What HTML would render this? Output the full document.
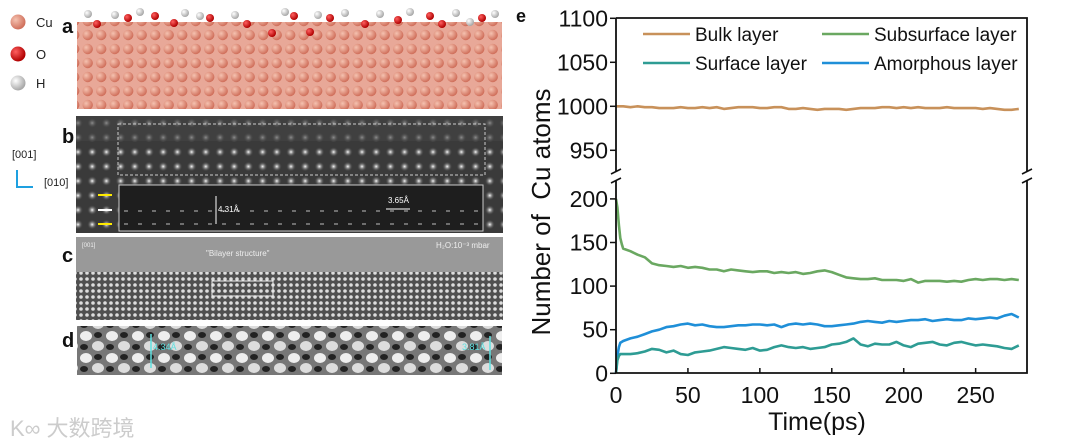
<!DOCTYPE html>
<html><head><meta charset="utf-8"><style>
html,body{margin:0;padding:0;background:#fff;}
body{width:1080px;height:446px;overflow:hidden;position:relative;font-family:"Liberation Sans",sans-serif;}
</style></head><body>
<svg width="1080" height="446" viewBox="0 0 1080 446" style="position:absolute;left:0;top:0">
<defs>
<radialGradient id="gcu" cx="35%" cy="35%" r="65%"><stop offset="0" stop-color="#f5c2b0"/><stop offset="1" stop-color="#d0705c"/></radialGradient>
<radialGradient id="go" cx="35%" cy="35%" r="65%"><stop offset="0" stop-color="#ff6060"/><stop offset="1" stop-color="#b00000"/></radialGradient>
<radialGradient id="gh" cx="35%" cy="35%" r="65%"><stop offset="0" stop-color="#ffffff"/><stop offset="1" stop-color="#a8a8a8"/></radialGradient>
<radialGradient id="gdot" cx="50%" cy="50%" r="50%"><stop offset="0" stop-color="#fff"/><stop offset="1" stop-color="#444" stop-opacity="0"/></radialGradient>
<pattern id="patA" width="13.5" height="14" patternUnits="userSpaceOnUse"><rect width="13.5" height="14" fill="#e8a898"/><circle cx="6.7" cy="7" r="5.2" fill="url(#gcu)"/></pattern>
<pattern id="patB" width="14.2" height="14.5" patternUnits="userSpaceOnUse"><rect width="14.2" height="14.5" fill="#3a3a3a"/><circle cx="7" cy="7" r="5" fill="url(#gdot)"/></pattern>
<pattern id="patC" width="6" height="6" patternUnits="userSpaceOnUse"><rect width="6" height="6" fill="#505050"/><circle cx="3" cy="3" r="1.8" fill="#ddd"/></pattern>
<pattern id="patD" width="26" height="22" patternUnits="userSpaceOnUse"><rect width="26" height="22" fill="#777"/><ellipse cx="8" cy="6" rx="6" ry="5" fill="#eee"/><ellipse cx="20" cy="16" rx="6" ry="5" fill="#ddd"/><ellipse cx="20" cy="5" rx="4" ry="3" fill="#222"/><ellipse cx="6" cy="17" rx="4" ry="3" fill="#222"/></pattern>
</defs>
<g font-size="13" fill="#222">
<circle cx="18" cy="22" r="7.5" fill="url(#gcu)"/><text x="36" y="27">Cu</text>
<circle cx="18" cy="54" r="7.5" fill="url(#go)"/><text x="36" y="59">O</text>
<circle cx="18" cy="83" r="7.5" fill="url(#gh)"/><text x="36" y="88">H</text>
</g>
<g font-weight="bold" font-size="20" fill="#111">
<text x="62" y="33">a</text><text x="62" y="143">b</text><text x="62" y="262">c</text><text x="62" y="347">d</text><text x="516" y="22" font-size="18">e</text>
</g>
<g>
<rect x="77" y="22" width="425" height="87" fill="url(#patA)"/>
<g fill="url(#go)"><circle cx="97" cy="24" r="4"/><circle cx="128" cy="18" r="4"/><circle cx="155" cy="16" r="4"/><circle cx="174" cy="23" r="4"/><circle cx="210" cy="18" r="4"/><circle cx="247" cy="24" r="4"/><circle cx="272" cy="33" r="4"/><circle cx="294" cy="16" r="4"/><circle cx="310" cy="32" r="4"/><circle cx="330" cy="18" r="4"/><circle cx="365" cy="24" r="4"/><circle cx="398" cy="20" r="4"/><circle cx="430" cy="16" r="4"/><circle cx="442" cy="24" r="4"/><circle cx="482" cy="18" r="4"/></g>
<g fill="url(#gh)"><circle cx="88" cy="14" r="4"/><circle cx="115" cy="15" r="4"/><circle cx="140" cy="12" r="4"/><circle cx="185" cy="13" r="4"/><circle cx="200" cy="16" r="4"/><circle cx="235" cy="15" r="4"/><circle cx="285" cy="12" r="4"/><circle cx="318" cy="15" r="4"/><circle cx="345" cy="13" r="4"/><circle cx="380" cy="14" r="4"/><circle cx="410" cy="12" r="4"/><circle cx="456" cy="13" r="4"/><circle cx="470" cy="22" r="4"/><circle cx="495" cy="14" r="4"/></g>
</g>
<g>
<rect x="76" y="116" width="427" height="117" fill="url(#patB)"/>
<rect x="76" y="116" width="427" height="25" fill="#444" opacity="0.6"/>
<rect x="118" y="124" width="367" height="51" fill="none" stroke="#ccc" stroke-dasharray="3,2"/>
<rect x="119" y="185" width="364" height="46" fill="#1e1e1e" stroke="#ccc"/>
<g fill="none" stroke="#888" stroke-width="1.5">
<line x1="124" y1="211" x2="478" y2="211" stroke-dasharray="4,10"/><line x1="124" y1="224" x2="478" y2="224" stroke-dasharray="4,10"/></g>
<g stroke="#ffeb00" stroke-width="2"><line x1="98" y1="195" x2="112" y2="195"/><line x1="98" y1="224" x2="112" y2="224"/></g>
<line x1="98" y1="210" x2="112" y2="210" stroke="#fff" stroke-width="2"/>
<line x1="216" y1="196" x2="216" y2="224" stroke="#fff"/><text x="218" y="212" font-size="8" fill="#fff">4.31Å</text>
<line x1="386" y1="209" x2="410" y2="209" stroke="#fff"/><text x="388" y="203" font-size="8" fill="#fff">3.65Å</text>
</g>
<g font-size="11" fill="#222">
<text x="12" y="158">[001]</text><text x="44" y="186">[010]</text>
<path d="M17 170 V187 H33" fill="none" stroke="#1ea0e0" stroke-width="2"/>
</g>
<g>
<rect x="76" y="237" width="427" height="83" fill="#999"/>
<rect x="76" y="272" width="427" height="48" fill="url(#patC)"/>
<rect x="212" y="281" width="61" height="15" fill="none" stroke="#eee"/>
<text x="206" y="256" font-size="8" fill="#eee">"Bilayer structure"</text>
<text x="436" y="248" font-size="8" fill="#eee">H₂O:10⁻³ mbar</text>
<text x="82" y="247" font-size="6" fill="#eee">[001]</text>
</g>
<g>
<rect x="77" y="326" width="425" height="49" fill="url(#patD)"/>
<line x1="151" y1="334" x2="151" y2="368" stroke="#5ee0e0" stroke-width="1.5"/><text x="153" y="350" font-size="9" fill="#5ee0e0">4.34Å</text>
<line x1="490" y1="336" x2="490" y2="370" stroke="#5ee0e0" stroke-width="1.5"/><text x="462" y="350" font-size="9" fill="#5ee0e0">3.81Å</text>
</g>
<text x="10" y="436" font-size="22" fill="#ccc" font-family="'Liberation Sans','Noto Sans CJK SC',sans-serif">K∞ 大数跨境</text>
<g id="chart"></g>
</svg>
<script>
const times=[0,1,2,3,4];for(let t=5;t<=280;t+=5)times.push(t);
const bulk=[1000,1000,1000,1000,1000,1000,999,1000,999,999,998,998,998,999,998,998,999,998,999,997,998,999,999,999,998,998,999,999,997,997,998,997,996,997,997,997,996,997,998,998,998,999,999,998,999,998,999,998,998,998,999,998,998,998,998,997,998,997,996,996,997];
const subsurface=[200,190,170,155,148,143,140,136,133,126,124,123,122,123,121,122,121,119,119,117,119,118,117,116,117,117,115,116,115,116,114,115,117,118,116,113,110,109,108,108,109,107,107,107,106,108,104,106,106,106,105,106,105,107,108,107,108,108,107,108,107];
const surface=[0,15,20,22,22,22,22,23,25,28,27,24,26,22,21,24,25,26,28,30,29,28,27,29,26,27,30,32,30,29,30,28,29,30,33,34,36,40,33,31,34,33,33,36,32,30,34,35,36,33,32,35,36,34,32,33,32,31,29,28,32];
const amorphous=[0,20,30,35,36,37,40,42,45,48,50,53,54,56,57,55,56,54,53,53,54,55,55,56,56,55,56,53,56,57,56,57,56,54,54,55,56,57,59,60,59,58,60,59,60,61,61,62,60,61,62,61,61,63,62,63,64,63,66,68,64];
const xTicks=[0,50,100,150,200,250];
const yTopTicks=[950,1000,1050,1100];
const yBotTicks=[0,50,100,150,200];
const seriesNames=["Bulk layer","Subsurface layer","Surface layer","Amorphous layer"];
const NS="http://www.w3.org/2000/svg";
const g=document.getElementById('chart');
const L=616,R=1027,T=18,B=373,XMAX=285.7;
const X=v=>L+(v/XMAX)*(R-L);
const YT=v=>18.3+(1100-v)*0.88;
const YB=v=>373.3-v*0.872;
function mk(tag,attrs){const e=document.createElementNS(NS,tag);for(const k in attrs)e.setAttribute(k,attrs[k]);g.appendChild(e);return e;}
function line(vals,yf,color,name){
  const d=vals.map((v,i)=>(i?'L':'M')+X(times[i]).toFixed(1)+' '+yf(v).toFixed(1)).join(' ');
  const p=mk('path',{d:d,fill:'none',stroke:color,'stroke-width':2.6,'stroke-linejoin':'round'});
  
  
}
line(bulk,YT,'#c8915a','bulk-layer-line');
line(subsurface,YB,'#6aa861','subsurface-layer-line');
line(amorphous,YB,'#1f8fd8','amorphous-layer-line');
line(surface,YB,'#2e9c94','surface-layer-line');
const ax=mk('path',{d:`M${L} ${T} V172 M${L} 180 V${B} H${R} V180 M${R} 172 V${T} H${L}`,fill:'none',stroke:'#111','stroke-width':1.8});


[L,R].forEach(x=>{
  const b=mk('path',{d:`M${x-5} 174 L${x+5} 169 M${x-5} 183 L${x+5} 178`,stroke:'#111','stroke-width':1.6,fill:'none'});
  
  
});
xTicks.forEach(v=>{
  mk('line',{x1:X(v),x2:X(v),y1:B,y2:B-5,stroke:'#111','stroke-width':1.5});
  const t=mk('text',{x:X(v),y:403,'text-anchor':'middle','font-size':23,fill:'#111'});t.textContent=v;
  
  
});
yTopTicks.forEach(v=>{
  mk('line',{x1:L,x2:L-6,y1:YT(v),y2:YT(v),stroke:'#111','stroke-width':1.5});
  const t=mk('text',{x:L-8,y:YT(v)+8,'text-anchor':'end','font-size':23,fill:'#111'});t.textContent=v;
  
  
});
yBotTicks.forEach(v=>{
  mk('line',{x1:L,x2:L-6,y1:YB(v),y2:YB(v),stroke:'#111','stroke-width':1.5});
  const t=mk('text',{x:L-8,y:YB(v)+8,'text-anchor':'end','font-size':23,fill:'#111'});t.textContent=v;
  
  
});
const xt=mk('text',{x:817,y:430,'text-anchor':'middle','font-size':25,fill:'#111'});xt.textContent='Time(ps)';


const yt=mk('text',{x:0,y:0,'text-anchor':'middle','font-size':26,fill:'#111',transform:'translate(550,212) rotate(-90)'});yt.textContent='Number of  Cu atoms';
yt.setAttribute('style','white-space:pre');


const legColors=['#c8915a','#6aa861','#2e9c94','#1f8fd8'];
const legPos=[[643,34],[822,34],[643,63],[822,63]];
seriesNames.forEach((n,i)=>{
  const [x,y]=legPos[i];
  const l=mk('line',{x1:x,x2:x+47,y1:y,y2:y,stroke:legColors[i],'stroke-width':2.6});
  
  
  const t=mk('text',{x:x+52,y:y+7,'font-size':19,fill:'#111'});t.textContent=n;
  
  
});
</script>
</body></html>
